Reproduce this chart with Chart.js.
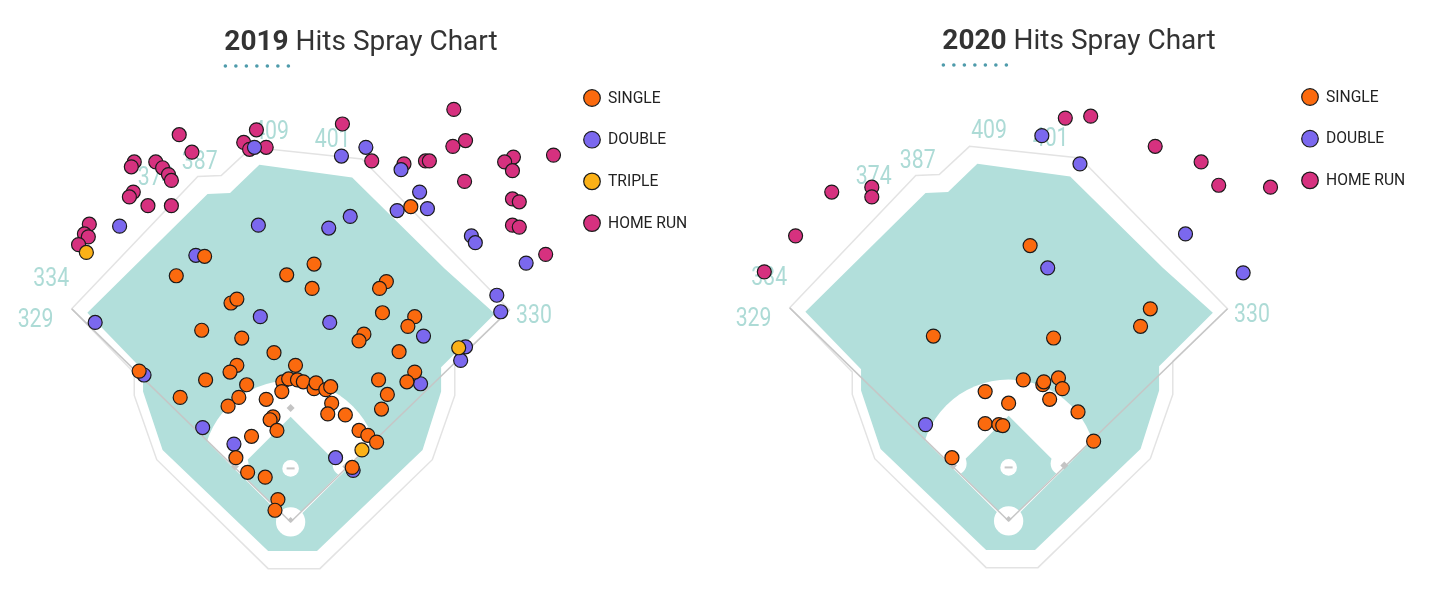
<!DOCTYPE html>
<html>
<head>
<meta charset="utf-8">
<title>Hits Spray Chart</title>
<script src="https://cdn.jsdelivr.net/npm/chart.js@4.4.1/dist/chart.umd.min.js"></script>
<style>
    html, body { margin: 0; padding: 0; background: #fff; overflow: hidden; }
    body { width: 1440px; height: 607px; position: relative; }
    canvas { position: absolute; }
    #chart-2019 { left: 0; top: 0; }
    #chart-2020 { left: 718px; top: -1px; }
</style>
</head>
<body>
<canvas id="chart-2019" width="720" height="607"></canvas>
<canvas id="chart-2020" width="720" height="607"></canvas>
<script>
// hit locations relative to home plate: x toward the right-field side, y toward centre field
const singles2019 = [
    [-88, 273], [123, 324], [24, 265], [-117, 253], [-4, 254], [22, 240], [-61, 225], [-55, 229],
    [-91, 197], [-50, 189], [-17, 174], [5, 161], [-155, 155], [-55, 161], [-62, 154], [-87, 146],
    [-45, 141], [-113, 128], [-53, 128], [-25, 126], [-64, 119], [98, 247], [91, 240], [94, 215],
    [127, 211], [120, 201], [75, 193], [70, 186], [111, 175], [127, 154], [119, 144], [90, 146],
    [99, 131], [93, 116], [-8, 144], [-2, 147], [7, 146], [13, 144], [24, 137], [26, 143],
    [36, 136], [41, 139], [-9, 134], [42, 122], [38, 111], [56, 110], [-18, 108], [-21, 105],
    [-14, 94], [-40, 88], [-56, 66], [-44, 51], [-26, 46], [-13, 23], [-16, 12], [70, 94],
    [79, 89], [88, 82], [63, 56]
];
const doubles2019 = [
    [-37, 385], [-175, 304], [-33, 305], [-97, 274], [52, 376], [77, 385], [113, 362], [132, 339],
    [109, 320], [140, 322], [61, 314], [39, 302], [185, 294], [189, 287], [241, 266], [-31, 211],
    [-200, 205], [-150, 151], [40, 205], [136, 191], [211, 233], [215, 216], [179, 180], [174, 166],
    [133, 142], [-90, 97], [-58, 80], [46, 66], [64, 53]
];
const triples2019 = [[-209, 277], [172, 179], [73, 74]];
const homeRuns2019 = [
    [-114, 398], [-101, 380], [-160, 370], [-163, 365], [-138, 370], [-131, 364], [-125, 357], [-122, 351],
    [-161, 339], [-165, 334], [-146, 325], [-122, 325], [-206, 306], [-211, 296], [-207, 293], [-217, 285],
    [-35, 403], [-48, 390], [-42, 383], [-25, 385], [167, 424], [53, 409], [166, 386], [179, 392],
    [83, 371], [116, 368], [138, 371], [142, 371], [178, 350], [228, 375], [219, 370], [227, 361],
    [269, 377], [227, 332], [234, 329], [227, 305], [234, 303], [261, 275]
];

const singles2020 = [
    [22, 283], [-77, 190], [46, 188], [145, 218], [135, 200], [15, 145], [35, 140], [36, 143],
    [51, 147], [55, 136], [-24, 133], [0, 121], [42, 125], [71, 112], [-24, 100], [-10, 99],
    [-6, 98], [-58, 65], [87, 82]
];
const doubles2020 = [[34, 396], [73, 367], [181, 295], [240, 255], [40, 260], [-85, 99]];
const triples2020 = [];
const homeRuns2020 = [
    [58, 414], [84, 416], [150, 385], [197, 369], [215, 345], [268, 343], [-181, 338], [-140, 343],
    [-140, 333], [-218, 293], [-250, 256]
];

const hitTypes = ['SINGLE', 'DOUBLE', 'TRIPLE', 'HOME RUN'];
const fenceLabels = ['329', '334', '374', '387', '409', '401', '330'];

const hitColors = {
    'SINGLE': '#fb6a0e',
    'DOUBLE': '#7b68ee',
    'TRIPLE': '#fbb117',
    'HOME RUN': '#d6317f'
};
// lower order is drawn on top
const drawOrder = { 'SINGLE': 0, 'TRIPLE': 1, 'DOUBLE': 2, 'HOME RUN': 3 };

// ballpark outline, same field units as the hits
const field = {
    wall: [[-224, 219], [-95, 355], [-71, 356], [-40, 385], [73, 373], [224, 218], [168, 164],
           [168, 130], [145, 64], [30, -48], [-23, -48], [-137, 64], [-160, 130], [-160, 153]],
    grass: [[-208, 215], [-85, 337], [-62, 338], [-32, 367], [63, 354], [158, 260], [209, 214],
            [154, 159], [154, 134], [135, 74], [27, -30], [-23, -30], [-131, 74], [-151, 134], [-151, 156]],
    fair: [[0, -3], [-300, 297], [300, 297]],
    infieldGrass: [[0, 0], [54, 54], [0, 108], [-54, 54]],
    mound: [0, 55],
    dirtRadius: 90,
    bases: [[57, 57], [0, 117], [-57, 57]],
    cutouts: [[55, 59], [-55, 59]],
    leftPole: [-224, 219],
    rightPole: [224, 218],
    labelSpots: [[-261, 207], [-245, 249], [-138, 353], [-93, 369], [-20, 400], [43, 392], [249, 211]]
};

function px(chart, [x, y]) {
    return [chart.scales.x.getPixelForValue(x), chart.scales.y.getPixelForValue(y)];
}

function radiusPx(chart, r) {
    return Math.abs(chart.scales.x.getPixelForValue(r) - chart.scales.x.getPixelForValue(0));
}

function tracePolygon(chart, pts) {
    const ctx = chart.ctx;
    ctx.beginPath();
    pts.forEach((p, i) => {
        const [x, y] = px(chart, p);
        if (i === 0) ctx.moveTo(x, y);
        else ctx.lineTo(x, y);
    });
    ctx.closePath();
}

function circle(chart, center, r, fill) {
    const ctx = chart.ctx;
    const [x, y] = px(chart, center);
    ctx.beginPath();
    ctx.arc(x, y, radiusPx(chart, r), 0, Math.PI * 2);
    ctx.fillStyle = fill;
    ctx.fill();
}

function diamondMarker(chart, center, size) {
    const ctx = chart.ctx;
    const [x, y] = px(chart, center);
    ctx.beginPath();
    ctx.moveTo(x, y - size);
    ctx.lineTo(x + size, y);
    ctx.lineTo(x, y + size);
    ctx.lineTo(x - size, y);
    ctx.closePath();
    ctx.fillStyle = '#c4c4c4';
    ctx.fill();
}

function narrowText(ctx, text, x, y, squeeze) {
    ctx.save();
    ctx.translate(x, y);
    ctx.scale(squeeze, 1);
    ctx.fillText(text, 0, 0);
    ctx.restore();
}

const ballparkPlugin = {
    id: 'ballpark',
    beforeDatasetsDraw(chart) {
        const ctx = chart.ctx;
        ctx.save();

        // warning track band and wall line
        tracePolygon(chart, field.wall);
        ctx.fillStyle = '#ffffff';
        ctx.fill();
        ctx.strokeStyle = '#e3e3e3';
        ctx.lineWidth = 1.5;
        ctx.stroke();

        tracePolygon(chart, field.grass);
        ctx.fillStyle = '#b2dfdb';
        ctx.fill();

        // infield dirt, kept inside the foul lines
        ctx.save();
        tracePolygon(chart, field.fair);
        ctx.clip();
        circle(chart, field.mound, field.dirtRadius, '#ffffff');
        tracePolygon(chart, field.infieldGrass);
        ctx.fillStyle = '#b2dfdb';
        ctx.fill();
        field.cutouts.forEach(c => circle(chart, c, 12, '#ffffff'));
        ctx.restore();

        circle(chart, [0, 0], 15, '#ffffff');

        // foul lines
        ctx.strokeStyle = '#c6c6c6';
        ctx.lineWidth = 1.5;
        [field.leftPole, field.rightPole].forEach(pole => {
            const [hx, hy] = px(chart, [0, 0]);
            const [fx, fy] = px(chart, pole);
            ctx.beginPath();
            ctx.moveTo(hx, hy);
            ctx.lineTo(fx, fy);
            ctx.stroke();
        });

        field.bases.forEach(b => diamondMarker(chart, b, 4));
        diamondMarker(chart, [0, 2], 3);

        circle(chart, field.mound, 8.5, '#ffffff');
        const [mx, my] = px(chart, field.mound);
        ctx.strokeStyle = '#c6c6c6';
        ctx.lineWidth = 2;
        ctx.beginPath();
        ctx.moveTo(mx - 4, my);
        ctx.lineTo(mx + 4, my);
        ctx.stroke();

        // fence distances
        ctx.fillStyle = '#addbd6';
        ctx.font = '400 25px Roboto';
        ctx.textAlign = 'center';
        ctx.textBaseline = 'middle';
        fenceLabels.forEach((label, i) => {
            const [x, y] = px(chart, field.labelSpots[i]);
            narrowText(ctx, label, x, y, 0.85);
        });

        ctx.restore();
    },
    afterDraw(chart, args, opts) {
        const ctx = chart.ctx;
        ctx.save();

        // title: bold year, regular rest
        const rest = ' Hits Spray Chart';
        ctx.font = '700 28px Roboto';
        const yearWidth = ctx.measureText(opts.year).width;
        ctx.font = '400 28px Roboto';
        const restWidth = ctx.measureText(rest).width;
        const x0 = 361 - (yearWidth + restWidth) / 2;
        ctx.fillStyle = '#333333';
        ctx.textAlign = 'left';
        ctx.textBaseline = 'alphabetic';
        ctx.font = '700 28px Roboto';
        ctx.fillText(opts.year, x0, 50);
        ctx.font = '400 28px Roboto';
        ctx.fillText(rest, x0 + yearWidth, 50);

        ctx.fillStyle = '#4e9bab';
        for (let i = 0; i < 7; i++) {
            ctx.beginPath();
            ctx.arc(x0 + 1 + i * 10.5, 66, 1.8, 0, Math.PI * 2);
            ctx.fill();
        }

        // legend
        ctx.font = '400 17px Roboto';
        ctx.textBaseline = 'middle';
        chart.data.datasets.forEach((ds, i) => {
            const cy = 98 + i * 41.7;
            ctx.beginPath();
            ctx.arc(592, cy, 8.3, 0, Math.PI * 2);
            ctx.fillStyle = ds.backgroundColor;
            ctx.fill();
            ctx.strokeStyle = '#1b1b1b';
            ctx.lineWidth = 1.2;
            ctx.stroke();
            ctx.fillStyle = '#222222';
            narrowText(ctx, ds.label, 608, cy + 0.5, 0.92);
        });

        ctx.restore();
    }
};

function buildDatasets(series) {
    return hitTypes
        .map((type, i) => ({ type: type, pts: series[i] }))
        .filter(s => s.pts.length > 0)
        .map(s => ({
            label: s.type,
            data: s.pts.map(([x, y]) => ({ x: x, y: y })),
            backgroundColor: hitColors[s.type],
            borderColor: '#1b1b1b',
            borderWidth: 1.2,
            pointRadius: 7,
            pointHoverRadius: 7,
            order: drawOrder[s.type]
        }));
}

function buildOptions(year) {
    return {
        animation: false,
        responsive: false,
        events: [],
        layout: { padding: 0 },
        plugins: {
            legend: { display: false },
            tooltip: { enabled: false },
            ballpark: { year: year }
        },
        scales: {
            x: { type: 'linear', min: -289, max: 431, display: false },
            y: { type: 'linear', min: -79, max: 528, display: false }
        }
    };
}

const seasons = [
    { year: '2019', series: [singles2019, doubles2019, triples2019, homeRuns2019] },
    { year: '2020', series: [singles2020, doubles2020, triples2020, homeRuns2020] }
];

seasons.forEach(season => {
    new Chart(document.getElementById(`chart-${season.year}`), {
        type: 'scatter',
        data: { datasets: buildDatasets(season.series) },
        options: buildOptions(season.year),
        plugins: [ballparkPlugin]
    });
});
</script>
</body>
</html>
